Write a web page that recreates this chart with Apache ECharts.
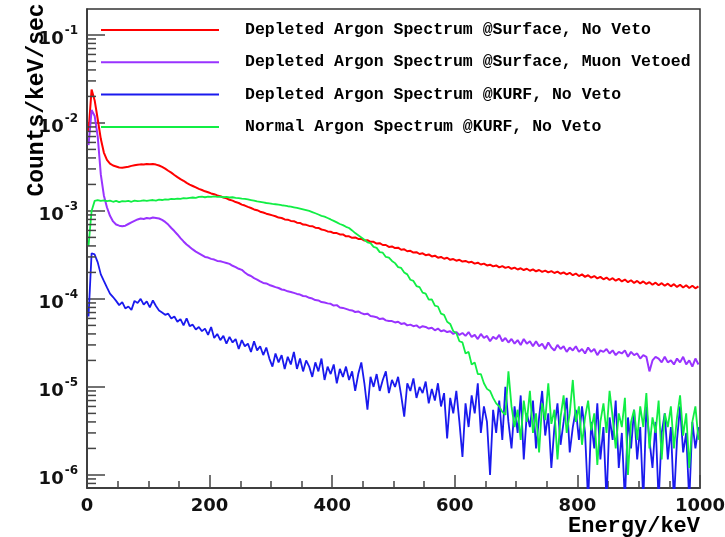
<!DOCTYPE html>
<html>
<head>
<meta charset="utf-8">
<script src="https://cdn.jsdelivr.net/npm/echarts@6/dist/echarts.min.js"></script>
<style>
  html, body { margin: 0; padding: 0; background: #fff; }
  #chart { width: 725px; height: 537px; }
</style>
</head>
<body>
<div id="chart"></div>
<script>
// Histogram binning: 5 keV bins from 0 to 1000 keV (bin centres)
const binWidth = 5;
const nBins = 200;
const energy = Array.from({ length: nBins }, (_, i) => binWidth * (i + 0.5));

const seriesNames = [
  'Depleted Argon Spectrum @Surface, No Veto',
  'Depleted Argon Spectrum @Surface, Muon Vetoed',
  'Depleted Argon Spectrum @KURF, No Veto',
  'Normal Argon Spectrum @KURF, No Veto'
];

// Counts/keV/sec per bin
const depletedSurfaceNoVeto = [
  8.0e-3, 2.4e-2, 1.8e-2, 1.1e-2, 6.6e-3, 4.6e-3, 3.8e-3, 3.45e-3, 3.28e-3, 3.2e-3,
  3.12e-3, 3.1e-3, 3.14e-3, 3.18e-3, 3.25e-3, 3.3e-3, 3.34e-3, 3.38e-3, 3.36e-3, 3.42e-3,
  3.4e-3, 3.41e-3, 3.36e-3, 3.28e-3, 3.16e-3, 3.02e-3, 2.86e-3, 2.72e-3, 2.56e-3, 2.42e-3,
  2.3e-3, 2.2e-3, 2.08e-3, 1.99e-3, 1.92e-3, 1.85e-3, 1.78e-3, 1.73e-3, 1.67e-3, 1.63e-3,
  1.58e-3, 1.55e-3, 1.5e-3, 1.47e-3, 1.42e-3, 1.39e-3, 1.34e-3, 1.31e-3, 1.26e-3, 1.23e-3,
  1.18e-3, 1.15e-3, 1.11e-3, 1.08e-3, 1.04e-3, 1.02e-3, 9.8e-4, 9.6e-4, 9.3e-4, 9.1e-4,
  8.9e-4, 8.7e-4, 8.4e-4, 8.3e-4, 8.0e-4, 7.95e-4, 7.7e-4, 7.65e-4, 7.35e-4, 7.3e-4,
  7.0e-4, 6.95e-4, 6.75e-4, 6.7e-4, 6.45e-4, 6.4e-4, 6.15e-4, 6.05e-4, 5.85e-4, 5.8e-4,
  5.6e-4, 5.6e-4, 5.4e-4, 5.4e-4, 5.15e-4, 5.15e-4, 4.95e-4, 5.0e-4, 4.8e-4, 4.8e-4,
  4.6e-4, 4.65e-4, 4.45e-4, 4.45e-4, 4.25e-4, 4.3e-4, 4.1e-4, 4.1e-4, 3.9e-4, 3.95e-4,
  3.78e-4, 3.82e-4, 3.62e-4, 3.66e-4, 3.48e-4, 3.52e-4, 3.36e-4, 3.4e-4, 3.24e-4, 3.3e-4,
  3.14e-4, 3.2e-4, 3.04e-4, 3.1e-4, 2.94e-4, 3.0e-4, 2.86e-4, 2.94e-4, 2.78e-4, 2.84e-4,
  2.72e-4, 2.78e-4, 2.66e-4, 2.7e-4, 2.6e-4, 2.64e-4, 2.52e-4, 2.58e-4, 2.46e-4, 2.52e-4,
  2.4e-4, 2.45e-4, 2.34e-4, 2.4e-4, 2.28e-4, 2.36e-4, 2.25e-4, 2.31e-4, 2.2e-4, 2.27e-4,
  2.16e-4, 2.23e-4, 2.13e-4, 2.2e-4, 2.09e-4, 2.17e-4, 2.06e-4, 2.13e-4, 2.03e-4, 2.1e-4,
  2.0e-4, 2.07e-4, 1.97e-4, 2.04e-4, 1.93e-4, 2.0e-4, 1.9e-4, 1.98e-4, 1.86e-4, 1.94e-4,
  1.82e-4, 1.9e-4, 1.78e-4, 1.86e-4, 1.74e-4, 1.82e-4, 1.71e-4, 1.78e-4, 1.67e-4, 1.75e-4,
  1.64e-4, 1.72e-4, 1.61e-4, 1.69e-4, 1.58e-4, 1.66e-4, 1.55e-4, 1.63e-4, 1.52e-4, 1.6e-4,
  1.5e-4, 1.58e-4, 1.48e-4, 1.55e-4, 1.45e-4, 1.53e-4, 1.43e-4, 1.51e-4, 1.41e-4, 1.49e-4,
  1.39e-4, 1.47e-4, 1.37e-4, 1.45e-4, 1.35e-4, 1.43e-4, 1.33e-4, 1.41e-4, 1.32e-4, 1.39e-4
];

const depletedSurfaceMuonVetoed = [
  5.6e-3, 1.4e-2, 1.2e-2, 7.0e-3, 2.6e-3, 1.5e-3, 1.1e-3, 8.8e-4, 7.6e-4, 7.0e-4,
  6.8e-4, 6.7e-4, 6.8e-4, 7.1e-4, 7.4e-4, 7.7e-4, 8.0e-4, 8.2e-4, 8.1e-4, 8.3e-4,
  8.2e-4, 8.4e-4, 8.3e-4, 8.2e-4, 7.9e-4, 7.5e-4, 7.0e-4, 6.4e-4, 5.9e-4, 5.4e-4,
  4.9e-4, 4.5e-4, 4.15e-4, 3.9e-4, 3.65e-4, 3.45e-4, 3.3e-4, 3.15e-4, 3.0e-4, 2.95e-4,
  2.85e-4, 2.8e-4, 2.7e-4, 2.68e-4, 2.62e-4, 2.56e-4, 2.5e-4, 2.38e-4, 2.3e-4, 2.2e-4,
  2.14e-4, 2.0e-4, 1.88e-4, 1.82e-4, 1.72e-4, 1.66e-4, 1.58e-4, 1.52e-4, 1.5e-4, 1.44e-4,
  1.4e-4, 1.36e-4, 1.33e-4, 1.28e-4, 1.26e-4, 1.22e-4, 1.2e-4, 1.17e-4, 1.14e-4, 1.12e-4,
  1.08e-4, 1.07e-4, 1.03e-4, 1.01e-4, 9.7e-5, 9.6e-5, 9.2e-5, 9.1e-5, 8.9e-5, 8.8e-5,
  8.4e-5, 8.5e-5, 8.0e-5, 7.9e-5, 7.7e-5, 7.5e-5, 7.4e-5, 7.1e-5, 7.2e-5, 6.9e-5,
  6.7e-5, 6.8e-5, 6.4e-5, 6.3e-5, 6.2e-5, 5.9e-5, 6.0e-5, 5.7e-5, 5.6e-5, 5.6e-5,
  5.4e-5, 5.5e-5, 5.2e-5, 5.3e-5, 5.0e-5, 5.1e-5, 4.9e-5, 5.0e-5, 4.7e-5, 4.9e-5,
  4.8e-5, 4.6e-5, 4.7e-5, 4.4e-5, 4.6e-5, 4.3e-5, 4.4e-5, 4.2e-5, 4.3e-5, 4.0e-5,
  4.2e-5, 3.9e-5, 4.1e-5, 3.8e-5, 4.2e-5, 3.7e-5, 3.9e-5, 3.5e-5, 4.0e-5, 3.6e-5,
  3.8e-5, 3.3e-5, 3.7e-5, 3.5e-5, 3.9e-5, 3.3e-5, 3.6e-5, 3.2e-5, 3.5e-5, 3.1e-5,
  3.4e-5, 3.0e-5, 3.5e-5, 3.1e-5, 3.3e-5, 2.9e-5, 3.3e-5, 2.9e-5, 3.1e-5, 2.7e-5,
  3.2e-5, 2.8e-5, 2.6e-5, 3.0e-5, 2.7e-5, 2.9e-5, 2.5e-5, 2.8e-5, 2.6e-5, 2.9e-5,
  2.5e-5, 2.7e-5, 2.4e-5, 2.8e-5, 2.5e-5, 2.7e-5, 2.3e-5, 2.6e-5, 2.5e-5, 2.7e-5,
  2.4e-5, 2.6e-5, 2.3e-5, 2.5e-5, 2.4e-5, 2.6e-5, 2.2e-5, 2.5e-5, 2.3e-5, 2.4e-5,
  2.1e-5, 2.3e-5, 2.2e-5, 1.5e-5, 2.0e-5, 2.2e-5, 2.1e-5, 1.9e-5, 2.2e-5, 1.9e-5,
  2.0e-5, 1.8e-5, 2.1e-5, 1.9e-5, 2.2e-5, 1.8e-5, 2.0e-5, 1.7e-5, 2.1e-5, 1.8e-5
];

const depletedKurfNoVeto = [
  6.3e-5, 3.3e-4, 3.2e-4, 2.6e-4, 1.9e-4, 1.6e-4, 1.35e-4, 1.15e-4, 1.05e-4, 9.5e-5,
  8.5e-5, 9.2e-5, 7.8e-5, 8.2e-5, 7.5e-5, 9.5e-5, 9.0e-5, 1.0e-4, 8.6e-5, 9.4e-5,
  8.0e-5, 9.6e-5, 8.3e-5, 7.4e-5, 7.0e-5, 6.6e-5, 6.8e-5, 6.0e-5, 6.3e-5, 5.5e-5,
  5.9e-5, 5.0e-5, 6.0e-5, 4.9e-5, 5.1e-5, 4.5e-5, 4.8e-5, 4.3e-5, 4.6e-5, 3.9e-5,
  4.8e-5, 3.6e-5, 4.0e-5, 3.4e-5, 3.8e-5, 3.1e-5, 3.7e-5, 3.2e-5, 3.5e-5, 2.7e-5,
  3.4e-5, 2.9e-5, 3.1e-5, 2.5e-5, 3.3e-5, 2.6e-5, 2.9e-5, 2.3e-5, 2.8e-5, 2.1e-5,
  1.7e-5, 2.4e-5, 1.9e-5, 2.3e-5, 1.6e-5, 2.2e-5, 1.8e-5, 2.5e-5, 1.6e-5, 2.1e-5,
  1.5e-5, 2.0e-5, 1.7e-5, 1.3e-5, 1.9e-5, 1.5e-5, 2.1e-5, 1.2e-5, 1.7e-5, 1.4e-5,
  1.8e-5, 1.1e-5, 1.6e-5, 1.3e-5, 1.7e-5, 1.2e-5, 1.5e-5, 9.0e-6, 1.4e-5, 1.9e-5,
  1.1e-5, 5.5e-6, 1.3e-5, 1.0e-5, 1.4e-5, 9.0e-6, 1.2e-5, 1.5e-5, 8.5e-6, 1.2e-5,
  1.0e-5, 1.3e-5, 8.0e-6, 4.6e-6, 1.1e-5, 9.0e-6, 1.25e-5, 7.5e-6, 1.0e-5, 8.5e-6,
  1.15e-5, 6.5e-6, 9.5e-6, 7.0e-6, 1.1e-5, 6.0e-6, 8.5e-6, 2.6e-6, 7.5e-6, 5.0e-6,
  9.0e-6, 4.0e-6, 1.6e-6, 6.5e-6, 3.5e-6, 8.0e-6, 5.0e-6, 1.1e-5, 3.0e-6, 6.0e-6,
  4.0e-6, 1.0e-6, 5.5e-6, 3.0e-6, 7.0e-6, 2.5e-6, 1.0e-5, 4.0e-6, 2.0e-6, 6.0e-6,
  3.0e-6, 8.0e-6, 1.5e-6, 5.0e-6, 3.5e-6, 7.0e-6, 2.0e-6, 4.5e-6, 9.0e-6, 2.8e-6,
  5.0e-6, 1.2e-6, 3.5e-6, 6.5e-6, 2.2e-6, 4.0e-6, 7.5e-6, 1.8e-6, 3.5e-6, 5.5e-6,
  2.5e-6, 6.0e-6, 3.0e-6, 5.0e-7, 4.0e-6, 2.0e-6, 6.5e-6, 1.5e-6, 3.5e-6, 5.0e-7,
  4.5e-6, 2.5e-6, 7.0e-6, 1.2e-6, 3.0e-6, 5.0e-7, 4.5e-6, 2.0e-6, 5.5e-6, 1.5e-6,
  3.5e-6, 5.0e-7, 6.0e-6, 2.5e-6, 1.2e-6, 4.0e-6, 5.0e-7, 3.0e-6, 5.0e-6, 1.5e-6,
  3.5e-6, 5.0e-7, 2.5e-6, 6.0e-6, 1.8e-6, 3.0e-6, 5.0e-7, 4.0e-6, 2.0e-6, 3.5e-6
];

const normalKurfNoVeto = [
  4.0e-4, 1.0e-3, 1.3e-3, 1.33e-3, 1.3e-3, 1.32e-3, 1.29e-3, 1.31e-3, 1.27e-3, 1.3e-3,
  1.26e-3, 1.29e-3, 1.28e-3, 1.3e-3, 1.27e-3, 1.31e-3, 1.29e-3, 1.3e-3, 1.32e-3, 1.3e-3,
  1.32e-3, 1.33e-3, 1.31e-3, 1.34e-3, 1.33e-3, 1.35e-3, 1.34e-3, 1.37e-3, 1.36e-3, 1.38e-3,
  1.37e-3, 1.4e-3, 1.39e-3, 1.41e-3, 1.42e-3, 1.41e-3, 1.44e-3, 1.45e-3, 1.43e-3, 1.45e-3,
  1.44e-3, 1.46e-3, 1.44e-3, 1.45e-3, 1.43e-3, 1.44e-3, 1.42e-3, 1.43e-3, 1.41e-3, 1.4e-3,
  1.38e-3, 1.37e-3, 1.35e-3, 1.33e-3, 1.31e-3, 1.28e-3, 1.27e-3, 1.25e-3, 1.23e-3, 1.22e-3,
  1.2e-3, 1.19e-3, 1.18e-3, 1.16e-3, 1.15e-3, 1.13e-3, 1.12e-3, 1.1e-3, 1.08e-3, 1.06e-3,
  1.04e-3, 1.02e-3, 1.0e-3, 9.7e-4, 9.4e-4, 9.1e-4, 8.8e-4, 8.6e-4, 8.3e-4, 8.0e-4,
  7.7e-4, 7.4e-4, 7.1e-4, 6.9e-4, 6.6e-4, 6.4e-4, 6.0e-4, 5.6e-4, 5.3e-4, 5.0e-4,
  4.7e-4, 4.4e-4, 4.3e-4, 3.9e-4, 3.8e-4, 3.4e-4, 3.35e-4, 3.0e-4, 2.95e-4, 2.7e-4,
  2.55e-4, 2.3e-4, 2.25e-4, 2.0e-4, 1.9e-4, 1.65e-4, 1.6e-4, 1.4e-4, 1.36e-4, 1.18e-4,
  1.15e-4, 9.8e-5, 9.9e-5, 8.4e-5, 8.2e-5, 6.8e-5, 6.6e-5, 5.5e-5, 5.2e-5, 4.3e-5,
  4.1e-5, 3.3e-5, 3.2e-5, 2.4e-5, 2.5e-5, 1.8e-5, 1.9e-5, 1.4e-5, 1.4e-5, 1.1e-5,
  9.5e-6, 9.0e-6, 7.5e-6, 6.5e-6, 6.0e-6, 5.2e-6, 4.8e-6, 1.5e-5, 6.0e-6, 3.5e-6,
  5.5e-6, 2.5e-6, 7.0e-6, 4.0e-6, 9.0e-6, 3.0e-6, 5.0e-6, 1.8e-6, 6.5e-6, 4.2e-6,
  1.1e-5, 3.8e-6, 5.5e-6, 1.5e-6, 4.5e-6, 8.0e-6, 3.0e-6, 5.0e-6, 1.2e-5, 4.0e-6,
  6.0e-6, 2.2e-6, 4.5e-6, 7.0e-6, 3.2e-6, 5.0e-6, 1.3e-6, 4.0e-6, 6.5e-6, 3.0e-6,
  9.0e-6, 4.5e-6, 2.0e-6, 5.0e-6, 3.5e-6, 7.5e-6, 1.0e-6, 4.0e-6, 5.5e-6, 2.5e-6,
  6.0e-6, 3.5e-6, 8.5e-6, 2.0e-6, 4.5e-6, 3.0e-6, 7.0e-6, 1.5e-6, 5.0e-6, 3.5e-6,
  6.0e-6, 2.0e-6, 4.5e-6, 8.0e-6, 2.8e-6, 5.0e-6, 1.2e-6, 4.0e-6, 6.0e-6, 2.5e-6
];

const seriesValues = [depletedSurfaceNoVeto, depletedSurfaceMuonVetoed, depletedKurfNoVeto, normalKurfNoVeto];
const seriesColors = ['#ff0000', '#9933ff', '#1a1aee', '#11ee44'];
const seriesWidths = [2, 2, 1.8, 1.8];

// Axis ranges
const xMin = 0, xMax = 1000, xStep = 200;
const yMin = 7.1e-7, yMax = 0.197;

// Log-axis minor tick values (2..9 x 10^n)
const minorMantissas = [2, 3, 4, 5, 6, 7, 8, 9];
const decades = [-7, -6, -5, -4, -3, -2, -1];
const minorTickValues = [];
decades.forEach(d => minorMantissas.forEach(m => {
  const v = m * Math.pow(10, d);
  if (v > yMin && v < yMax) minorTickValues.push(v);
}));

const axisColor = '#333';
const tickColor = '#444';

const chart = echarts.init(document.getElementById('chart'), null, { renderer: 'canvas' });

const dataSeries = seriesNames.map((name, k) => ({
  name: name,
  type: 'line',
  data: energy.map((e, i) => [e, seriesValues[k][i]]),
  showSymbol: false,
  symbol: 'none',
  clip: true,
  animation: false,
  lineStyle: { color: seriesColors[k], width: seriesWidths[k] },
  itemStyle: { color: seriesColors[k] },
  z: 2 + k
}));

const option = {
  backgroundColor: '#ffffff',
  animation: false,
  grid: {
    left: 87, right: 25, top: 9, bottom: 49,
    outerBoundsMode: 'none',
    containLabel: false,
    show: true, borderColor: axisColor, borderWidth: 1.5, backgroundColor: 'transparent'
  },
  legend: {
    data: seriesNames,
    orient: 'vertical',
    left: 101,
    top: 20,
    padding: 0,
    icon: 'rect',
    itemWidth: 118,
    itemHeight: 2,
    itemGap: 12.3,
    selectedMode: false,
    textStyle: {
      fontFamily: '"Liberation Mono", "DejaVu Sans Mono", monospace',
      fontWeight: 'bold',
      fontSize: 16.5,
      color: '#000',
      lineHeight: 20,
      padding: [0, 0, 0, 21]
    }
  },
  xAxis: {
    type: 'value',
    min: xMin, max: xMax, interval: xStep,
    axisLine: { show: true, lineStyle: { color: axisColor, width: 1.5 } },
    axisTick: { show: true, inside: true, length: 13, lineStyle: { color: tickColor, width: 1.5 } },
    minorTick: { show: true, splitNumber: 4, length: 7, lineStyle: { color: tickColor, width: 1.5 } },
    splitLine: { show: false },
    axisLabel: {
      margin: 9,
      color: '#111',
      fontFamily: '"DejaVu Sans", sans-serif',
      fontWeight: 'bold',
      fontSize: 18,
      formatter: v => String(v)
    }
  },
  yAxis: {
    type: 'log',
    logBase: 10,
    min: yMin, max: yMax,
    axisLine: { show: true, lineStyle: { color: axisColor, width: 1.5 } },
    axisTick: { show: true, inside: true, length: 18, lineStyle: { color: tickColor, width: 1.5 } },
    splitLine: { show: false },
    axisLabel: {
      margin: 9,
      showMinLabel: false,
      showMaxLabel: false,
      formatter: function (v) {
        const l = Math.log10(v);
        const e = Math.round(l);
        if (Math.abs(l - e) > 1e-6) return '';
        return '{b|10}{s|' + (e < 0 ? '-' : '') + Math.abs(e) + '}';
      },
      rich: {
        // base "10" pushed down, exponent lifted up
        b: { fontFamily: '"DejaVu Sans", sans-serif', fontWeight: 'bold', fontSize: 18, color: '#111', verticalAlign: 'middle', lineHeight: 18, padding: [8, 0, 0, 0] },
        s: { fontFamily: '"DejaVu Sans", sans-serif', fontWeight: 'bold', fontSize: 12, color: '#111', verticalAlign: 'middle', lineHeight: 14, padding: [0, 0, 9, 1] }
      }
    }
  },
  graphic: [
    {
      type: 'text',
      x: 37, y: 100,
      rotation: Math.PI / 2,
      style: {
        text: 'Counts/keV/sec',
        font: 'bold 23px "Liberation Mono", monospace',
        fill: '#000',
        align: 'center',
        verticalAlign: 'middle'
      }
    },
    {
      type: 'text',
      x: 700, y: 526,
      style: {
        text: 'Energy/keV',
        font: 'bold 22px "Liberation Mono", monospace',
        fill: '#000',
        align: 'right',
        verticalAlign: 'middle'
      }
    }
  ],
  series: dataSeries.concat([{
    type: 'custom',
    silent: true,
    z: 10,
    animation: false,
    data: minorTickValues.map(v => [xMin, v]),
    renderItem: function (params, api) {
      const p = api.coord([api.value(0), api.value(1)]);
      return {
        type: 'line',
        shape: { x1: p[0], y1: p[1], x2: p[0] + 9, y2: p[1] },
        style: { stroke: tickColor, lineWidth: 1.5 }
      };
    }
  }])
};

chart.setOption(option);
</script>
</body>
</html>
